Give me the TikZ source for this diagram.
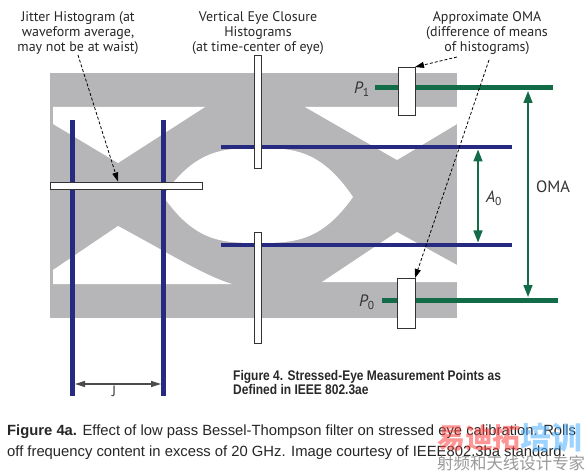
\documentclass[tikz,border=0pt]{standalone}
\usepackage{fontspec}
\setmainfont{Liberation Sans}
\newfontfamily\labfont{PT Sans}
\newfontfamily\condfont[FakeStretch=0.86]{Liberation Sans}
\newfontfamily\cjk{Noto Sans CJK SC}
\usetikzlibrary{arrows.meta}
\definecolor{eyegray}{RGB}{182,182,184}
\definecolor{navy}{RGB}{38,42,128}
\definecolor{dgreen}{RGB}{18,108,72}
\definecolor{captxt}{RGB}{40,40,40}
\tikzset{
  hist/.style={draw=black!80, line width=0.8bp, fill=white, inner sep=0pt, outer sep=0pt},
  navyline/.style={navy, line width=4.5bp},
  greenline/.style={dgreen, line width=5bp},
  dimarrow/.style={dgreen, line width=1.6bp, {Triangle[length=12bp,width=9bp]}-{Triangle[length=12bp,width=9bp]}},
  ptrarrow/.style={black, line width=0.8bp, densely dashed, -{Triangle[length=9bp,width=6bp]}},
  jarrow/.style={black!70, line width=1.2bp, {Triangle[length=10bp,width=6bp]}-{Triangle[length=10bp,width=6bp]}},
  labtext/.style={font=\labfont\fontsize{14}{15}\selectfont, text=black!85, align=center, inner sep=0pt},
  symtext/.style={font=\labfont\fontsize{16.5}{18}\selectfont, text=black!80, inner sep=0pt},
  figtext/.style={font=\condfont\bfseries\fontsize{14}{15}\selectfont, text=captxt, align=left, inner sep=0pt, anchor=west},
  captext/.style={font=\fontsize{14.85}{21}\selectfont, text=black!85, align=left, inner sep=0pt, anchor=west}
}
\begin{document}
\begin{tikzpicture}[x=1bp,y=-1bp]
\useasboundingbox (0,0) rectangle (588,473);
\fill[white] (0,0) rectangle (588,473);
% ---- eye diagram (gray traces with white openings)
\fill[eyegray] (50,73) rectangle (457,318);
\fill[white] (53,107) -- (205,107) -- (118,163) -- (53,124) -- cycle;
\fill[white] (53,270) -- (118,226) .. controls (170,254) and (205,276) .. (232,284) -- (53,284) -- cycle;
\fill[white] (163,196) .. controls (195,150) and (222,148) .. (258,148)
  .. controls (294,148) and (321,150) .. (353,197)
  .. controls (321,242) and (294,243) .. (258,243)
  .. controls (222,243) and (195,242) .. cycle;
\fill[white] (305,107) -- (457,107) -- (457,124) -- (397,160) -- cycle;
\fill[white] (322,282) -- (397,232) -- (457,265) -- (457,282) -- cycle;
% ---- navy lines
\coordinate (vl1t) at (72.5,120); \coordinate (vl1b) at (72.5,396);
\coordinate (vl2t) at (163.5,120); \coordinate (vl2b) at (163.5,396);
\coordinate (hl1l) at (221,147); \coordinate (hl1r) at (512,147);
\coordinate (hl2l) at (221,245); \coordinate (hl2r) at (512,245);
\draw[navyline] (vl1t) -- (vl1b);
\draw[navyline] (vl2t) -- (vl2b);
\draw[navyline, line width=4bp] (hl1l) -- (hl1r);
\draw[navyline, line width=4bp] (hl2l) -- (hl2r);
% ---- green lines
\coordinate (p1l) at (375,88); \coordinate (p1r) at (553,88);
\coordinate (p0l) at (382,300); \coordinate (p0r) at (558,300);
\draw[greenline] (p1l) -- (p1r);
\draw[greenline] (p0l) -- (p0r);
% ---- histograms
\node[hist, minimum width=152bp, minimum height=7bp] (jit) at (126,185.5) {};
\node[hist, minimum width=7bp, minimum height=113bp] (vec1) at (257.5,111.5) {};
\node[hist, minimum width=7bp, minimum height=111bp] (vec2) at (257.5,287.5) {};
\node[hist, minimum width=17bp, minimum height=48bp] (oma1) at (406.5,91) {};
\node[hist, minimum width=18bp, minimum height=50bp] (oma2) at (406,303) {};
% ---- labels
\node[labtext] (jittxt) at (78,33) {Jitter Histogram (at\\waveform average,\\may not be at waist)};
\node[labtext] (vectxt) at (258,33) {Vertical Eye Closure\\Histograms\\(at time-center of eye)};
\node[labtext] (omatxt) at (487,33) {Approximate OMA\\(difference of means\\of histograms)};
\node[symtext] (p1lab) at (362,89) {\itshape P\textsubscript{\upshape 1}};
\node[symtext] (p0lab) at (367,302) {\itshape P\textsubscript{\upshape 0}};
\node[symtext] (a0lab) at (494,198) {\itshape A\textsubscript{\upshape 0}};
\node[symtext] (omalab) at (553,187) {OMA};
\node[font=\labfont\fontsize{15}{16}\selectfont, text=black!75, inner sep=0pt] (jlab) at (114,391.5) {J};
% ---- pointer arrows
\coordinate (jitstart) at (78,55);
\coordinate (jittip) at (118,181.5);
\draw[ptrarrow] (jitstart) -- (jittip);
\coordinate (oma1start) at (457,57);
\draw[ptrarrow] (oma1start) -- (oma1.north east);
\coordinate (oma2start) at (489,60);
\draw[ptrarrow] (oma2start) -- (oma2.north east);
% ---- dimension arrows
\coordinate (a0t) at (478,149.5); \coordinate (a0b) at (478,242.5);
\draw[dimarrow] (a0t) -- (a0b);
\coordinate (omat) at (528,91); \coordinate (omab) at (528,297);
\draw[dimarrow] (omat) -- (omab);
\coordinate (jl) at (75,384); \coordinate (jr) at (161,384);
\draw[jarrow] (jl) -- (jr);
% ---- figure 4 caption
\node[figtext] (fig4) at (233,382.5) {Figure 4. Stressed-Eye Measurement Points as\\Defined in IEEE 802.3ae};
% ---- bottom caption
\node[captext] (cap) at (7,442.5) {\textbf{Figure 4a.} Effect of low pass Bessel-Thompson filter on stressed eye calibration. Rolls\\off frequency content in excess of 20 GHz. Image courtesy of IEEE802.3ba standard.};
% ---- watermark
\node[font=\cjk\bfseries\fontsize{28}{28}\selectfont, text=red!75!white, opacity=0.55, inner sep=0pt, anchor=west] (wm1) at (437,438) {易迪拓};
\node[font=\cjk\bfseries\fontsize{31}{31}\selectfont, text=blue!45!cyan!70!white, opacity=0.55, inner sep=0pt, anchor=west] (wm2) at (520,438) {培训};
\node[font=\cjk\fontsize{16.5}{16.5}\selectfont, text=black!50, opacity=0.8, inner sep=0pt, anchor=west] (wm3) at (437,463) {射频和天线设计专家};
\end{tikzpicture}
\end{document}
